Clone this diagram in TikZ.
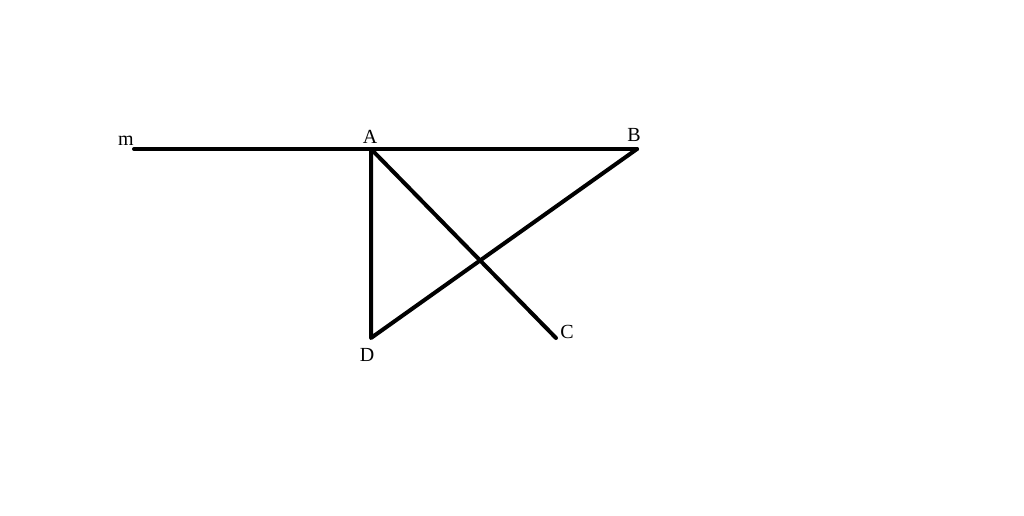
\documentclass[tikz,border=0pt]{standalone}
\usepackage{fontspec}
\setmainfont{Liberation Serif}
\begin{document}
\begin{tikzpicture}[x=1pt,y=-1pt,
  seg/.style={line width=4pt,line cap=round,line join=round},
  lbl/.style={font=\fontsize{20}{22}\selectfont,inner sep=0pt}]
\useasboundingbox (0,0) rectangle (1024,516);
\coordinate (M) at (134,149);
\coordinate (A) at (371,149);
\coordinate (B) at (637,149);
\coordinate (D) at (371,338);
\coordinate (C) at (556,338);
\draw[seg] (M) -- (A) -- (B);
\draw[seg] (A) -- (D) -- (B);
\draw[seg] (A) -- (C);
\node[lbl] (lm) at (126,141) {m};
\node[lbl] (lA) at (370,137) {A};
\node[lbl] (lB) at (634,135) {B};
\node[lbl] (lD) at (367,355) {D};
\node[lbl] (lC) at (567,332) {C};
\end{tikzpicture}
\end{document}
